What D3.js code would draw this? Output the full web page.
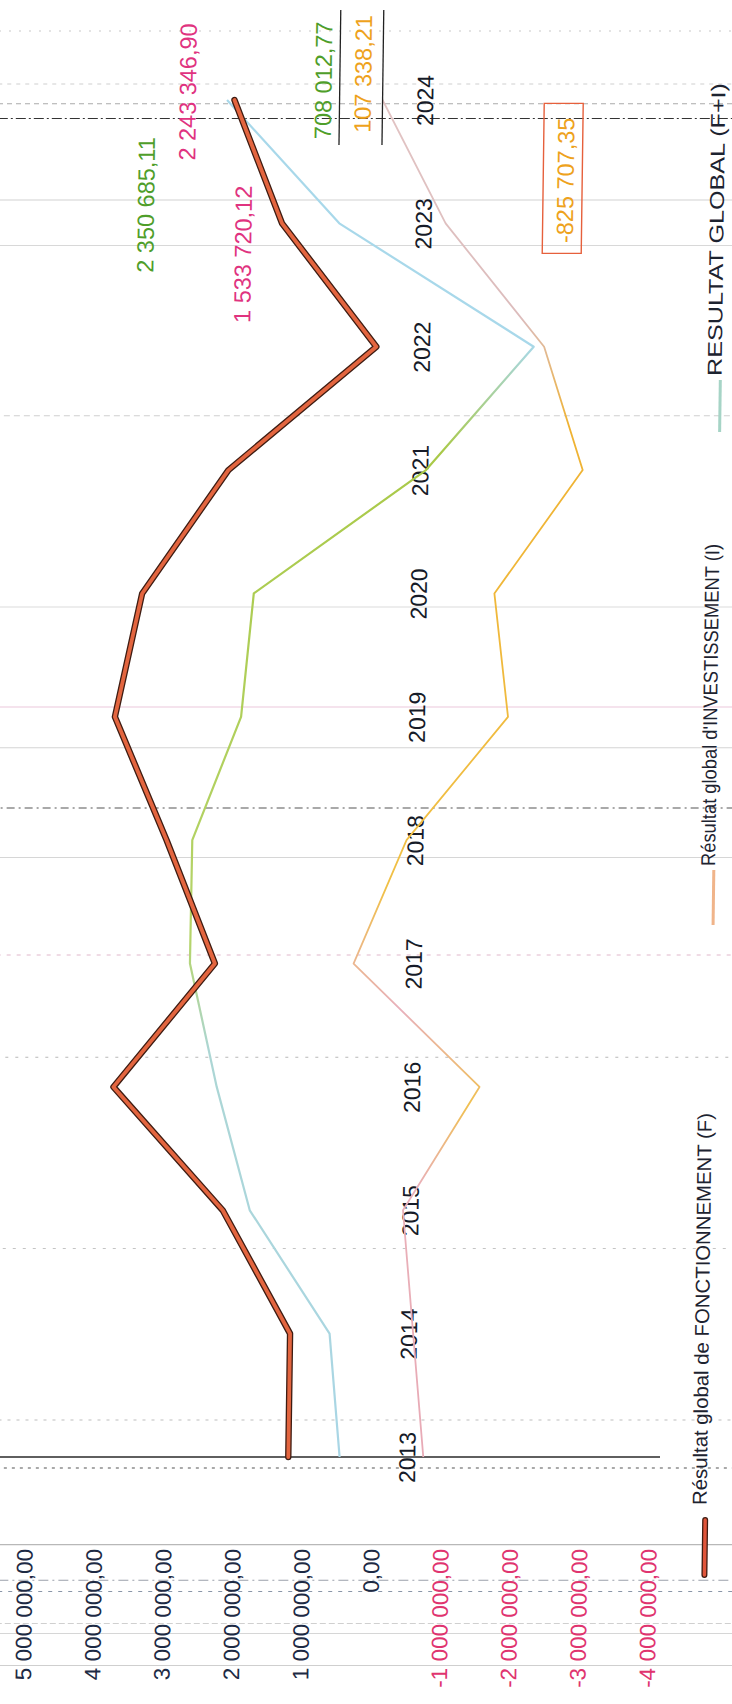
<!DOCTYPE html>
<html>
<head>
<meta charset="utf-8">
<script src="https://cdn.jsdelivr.net/npm/d3@7/dist/d3.min.js"></script>
<style>
  html, body { margin: 0; padding: 0; background: #fff; }
  svg { display: block; }
  text { font-family: "Liberation Sans", Arial, sans-serif; }
</style>
</head>
<body>
<svg id="chart" width="732" height="1704"></svg>
<script>
// Résultats de fonctionnement, d'investissement et global, 2013–2024 (en euros)
const years = [2013, 2014, 2015, 2016, 2017, 2018, 2019, 2020, 2021, 2022, 2023, 2024];
const fonctionnement = [1207000, 1205000, 2200000, 3800000, 2360000, 3080000, 3850000, 3480000, 2260000, 150000, 1533720.12, 2243346.90];
const investissement = [-740000, -570000, -400000, -1480000, 360000, -380000, -1820000, -1600000, -2850000, -2270000, -825707.35, 107338.21];
const resultatGlobal = [467000, 635000, 1810000, 2310000, 2720000, 2710000, 2030000, 1870000, -590000, -2120000, 708012.77, 2350685.11];
const valueTicks = [5000000, 4000000, 3000000, 2000000, 1000000, 0, -1000000, -2000000, -3000000, -4000000];
const seriesNames = [
  "Résultat global de FONCTIONNEMENT (F)",
  "Résultat global d'INVESTISSEMENT (I)",
  "RESULTAT GLOBAL (F+I)"
];

const W = 732, H = 1704;
const pivotY = 1457;          // the page is sheared slightly around the first category
const shear = 0.0133;

const svg = d3.select("#chart");
svg.append("rect").attr("width", W).attr("height", H).attr("fill", "#fff");

const frFormat = d3.formatLocale({
  decimal: ",", thousands: " ", grouping: [3], currency: ["", " €"], minus: "-"
}).format(",.2f");

// value axis runs left (high) to right (low); categories run bottom to top
const x = d3.scaleLinear().domain([5000000, -4000000]).range([25.3, 649.3]);
const y = d3.scalePoint().domain(years).range([1457, 100]);
const step = y(2014) - y(2013);
const yAt = t => y(2013) + (t - 2013) * step;

const root = svg.append("g")
  .attr("transform", `translate(0,${pivotY}) skewX(${-Math.atan(shear) * 180 / Math.PI}) translate(0,${-pivotY})`);

// faint rules across the sheet
const rules = [
  { t: 2011.31, c: "#cfcfcf", w: 1, d: null },
  { t: 2011.57, c: "#d6d6d6", w: 1, d: null },
  { t: 2011.65, c: "#d0d0d0", w: 1, d: "6 3" },
  { t: 2011.91, c: "#8a96a8", w: 1, d: "4 6" },
  { t: 2012.00, c: "#9aa0aa", w: 1, d: "10 4 2 4" },
  { t: 2012.29, c: "#b8b8b8", w: 1.3, d: null },
  { t: 2012.91, c: "#555", w: 1, d: "3 5" },
  { t: 2013.30, c: "#bdbdbd", w: 1, d: "3 6" },
  { t: 2014.69, c: "#c4c4c4", w: 1, d: "3 7" },
  { t: 2016.24, c: "#b8b8b8", w: 1, d: "3 7" },
  { t: 2017.07, c: "#e2b8cc", w: 1, d: "4 6" },
  { t: 2017.86, c: "#d6d6d6", w: 1, d: null },
  { t: 2018.26, c: "#555", w: 1, d: "8 4 2 4" },
  { t: 2018.75, c: "#d4d4d4", w: 1, d: null },
  { t: 2019.08, c: "#ecc8dc", w: 1, d: null },
  { t: 2019.89, c: "#dcdcdc", w: 1, d: null },
  { t: 2021.44, c: "#cfcfcf", w: 1, d: "6 4" },
  { t: 2022.82, c: "#d8d8d8", w: 1, d: null },
  { t: 2023.19, c: "#d2d2d2", w: 1, d: null },
  { t: 2023.85, c: "#333", w: 1.2, d: "10 3 2 3" },
  { t: 2023.97, c: "#aaa", w: 1, d: "5 4" },
  { t: 2024.13, c: "#cfcfcf", w: 1, d: "4 5" },
  { t: 2024.56, c: "#c8c8c8", w: 1, d: "2 8" }
];
root.append("g").selectAll("line").data(rules).join("line")
  .attr("x1", -20).attr("x2", W + 20)
  .attr("y1", d => yAt(d.t)).attr("y2", d => yAt(d.t))
  .attr("stroke", d => d.c).attr("stroke-width", d => d.w)
  .attr("stroke-dasharray", d => d.d);

// category axis line at the first year
root.append("line")
  .attr("x1", 0).attr("x2", 660)
  .attr("y1", y(2013)).attr("y2", y(2013))
  .attr("stroke", "#2a2a2a").attr("stroke-width", 1.3);

// value axis labels
const xAxis = root.append("g")
  .attr("transform", `translate(0,1549)`)
  .call(d3.axisBottom(x).tickValues(valueTicks).tickSize(0).tickFormat(frFormat));
xAxis.select(".domain").remove();
xAxis.selectAll("text")
  .attr("x", 0).attr("y", 0).attr("dy", "0.36em")
  .attr("transform", "rotate(-90)")
  .attr("text-anchor", "end")
  .attr("font-size", 22.5)
  .attr("font-family", "Liberation Sans, Arial, sans-serif")
  .attr("fill", d => d < 0 ? "#e0346f" : "#1d2a44");

// year labels next to the zero line
const yAxis = root.append("g")
  .attr("transform", `translate(${x(0)},0)`)
  .call(d3.axisRight(y).tickSize(0).tickFormat(d3.format("d")));
yAxis.select(".domain").remove();
yAxis.selectAll("text")
  .attr("x", 0).attr("y", 0).attr("dy", "0.36em")
  .attr("transform", "translate(35,0) rotate(-90)")
  .attr("text-anchor", "middle")
  .attr("font-size", 23)
  .attr("font-family", "Liberation Sans, Arial, sans-serif")
  .attr("fill", "#161b28");

// colour bands of the thin series
const defs = svg.append("defs");
function band(id, stops) {
  const g = defs.append("linearGradient").attr("id", id)
    .attr("gradientUnits", "userSpaceOnUse")
    .attr("x1", 0).attr("x2", 0).attr("y1", y(2013)).attr("y2", y(2024));
  stops.forEach(s => g.append("stop").attr("offset", s[0]).attr("stop-color", s[1]));
}
band("bandGlobal", [[0, "#a9d6e6"], [0.3, "#acd6d4"], [0.38, "#b5d46a"], [0.74, "#a9c948"], [0.82, "#a8d8ea"], [1, "#a8d8ea"]]);
band("bandInvest", [[0, "#e8aab6"], [0.2, "#e9b0b8"], [0.26, "#f0c050"], [0.33, "#e8b0bc"], [0.42, "#f0c046"], [0.76, "#efb232"], [0.84, "#dcbcbc"], [1, "#e2c4c4"]]);

const rows = years.map((yr, i) => ({ yr, f: fonctionnement[i], inv: investissement[i], g: resultatGlobal[i] }));
const lineOf = key => d3.line().x(d => x(d[key])).y(d => y(d.yr))(rows);

const plot = root.append("g");
plot.append("path").attr("d", lineOf("inv"))
  .attr("fill", "none").attr("stroke", "url(#bandInvest)").attr("stroke-width", 1.8)
  .attr("stroke-linejoin", "round");
plot.append("path").attr("d", lineOf("g"))
  .attr("fill", "none").attr("stroke", "url(#bandGlobal)").attr("stroke-width", 2.2)
  .attr("stroke-linejoin", "round");
plot.append("path").attr("d", lineOf("f"))
  .attr("fill", "none").attr("stroke", "#3e1c12").attr("stroke-width", 6.4)
  .attr("stroke-linejoin", "round").attr("stroke-linecap", "round");
plot.append("path").attr("d", lineOf("f"))
  .attr("fill", "none").attr("stroke", "#e3653f").attr("stroke-width", 3.8)
  .attr("stroke-linejoin", "round").attr("stroke-linecap", "round");

// value labels for the last two years
const seriesByKey = { f: fonctionnement, inv: investissement, g: resultatGlobal };
const callouts = [
  { key: "g",   year: 2024, dx: -80, dy: 105, color: "#4f9e2a" },
  { key: "f",   year: 2024, dx: -47, dy: -8,  color: "#e0337f" },
  { key: "f",   year: 2023, dx: -39, dy: 31,  color: "#e0337f" },
  { key: "g",   year: 2023, dx: -18, dy: -143, color: "#4f9e2a" },
  { key: "inv", year: 2024, dx: -20, dy: -26, color: "#eea21c", bracket: true },
  { key: "inv", year: 2023, dx: 119, dy: -43, color: "#eea21c", box: true }
];
const cg = root.append("g");
callouts.forEach(c => {
  const v = seriesByKey[c.key][years.indexOf(c.year)];
  const cx = x(v) + c.dx, cy = y(c.year) + c.dy;
  if (c.box) {
    cg.append("rect").attr("x", cx - 22).attr("y", cy - 77).attr("width", 39).attr("height", 150)
      .attr("fill", "none").attr("stroke", "#e6603c").attr("stroke-width", 1.4);
  }
  if (c.bracket) {
    [-23, 20].forEach(o => cg.append("line")
      .attr("x1", cx + o).attr("x2", cx + o).attr("y1", cy - 64).attr("y2", cy + 71)
      .attr("stroke", "#222").attr("stroke-width", 1.3));
  }
  cg.append("text")
    .attr("transform", `translate(${cx},${cy}) rotate(-90)`)
    .attr("text-anchor", "middle").attr("dy", "0.36em")
    .attr("font-size", 23.5).attr("fill", c.color)
    .text(frFormat(v));
});

// legend
const legend = [
  { name: seriesNames[0], y0: 1575, y1: 1520, start: 1505, len: 392, kind: "f" },
  { name: seriesNames[1], y0: 925, y1: 870, start: 866, len: 322, kind: "inv", color: "#f0b48a" },
  { name: seriesNames[2], y0: 432, y1: 380, start: 376, len: 293, kind: "g", color: "#a6d4c6" }
];
const lg = root.append("g");
legend.forEach(l => {
  if (l.kind === "f") {
    lg.append("line").attr("x1", 706).attr("x2", 706).attr("y1", l.y0).attr("y2", l.y1)
      .attr("stroke", "#3e1c12").attr("stroke-width", 6).attr("stroke-linecap", "round");
    lg.append("line").attr("x1", 706).attr("x2", 706).attr("y1", l.y0).attr("y2", l.y1)
      .attr("stroke", "#e0553a").attr("stroke-width", 3.4).attr("stroke-linecap", "round");
  } else {
    lg.append("line").attr("x1", 706).attr("x2", 706).attr("y1", l.y0).attr("y2", l.y1)
      .attr("stroke", l.color).attr("stroke-width", 3);
  }
  lg.append("text")
    .attr("transform", `translate(700,${l.start}) rotate(-90)`)
    .attr("text-anchor", "start").attr("dy", "0.36em")
    .attr("font-size", 20).attr("fill", "#1d2330")
    .attr("textLength", l.len).attr("lengthAdjust", "spacingAndGlyphs")
    .text(l.name);
});
</script>
</body>
</html>
